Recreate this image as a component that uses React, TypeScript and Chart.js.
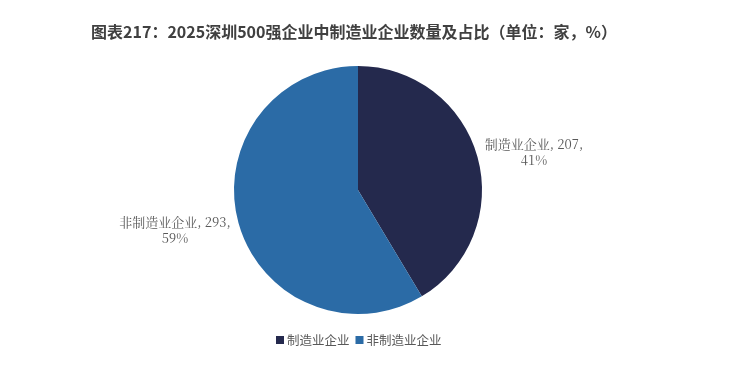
import React, { useEffect, useRef } from "react";
import { Chart, registerables } from "chart.js";

Chart.register(...registerables);

const titleText = "图表217：2025深圳500强企业中制造业企业数量及占比（单位：家，%）";
const categories = ["制造业企业", "非制造业企业"];
const counts = [207, 293];
const percents = ["41%", "59%"];
const colors = ["#24294d", "#2b6ba6"];

const FONT = "'Noto Sans CJK SC', 'Noto Sans', sans-serif";
const SERIF = "'Noto Serif CJK SC', 'Liberation Serif', 'DejaVu Serif', 'Noto Sans CJK SC', serif";

const overlay = {
  id: "overlay",
  afterDraw(chart: any) {
    const ctx = chart.ctx as CanvasRenderingContext2D;
    ctx.save();
    // title
    ctx.fillStyle = "#404040";
    ctx.font = `bold 16px ${FONT}`;
    ctx.textAlign = "center";
    ctx.textBaseline = "middle";
    ctx.fillText(titleText, 354, 32);

    // data labels
    const meta = chart.getDatasetMeta(0);
    ctx.font = `13px ${SERIF}`;
    ctx.fillStyle = "#595959";
    const positions = [
      { x: 534, y: 144 },
      { x: 175, y: 222 },
    ];
    meta.data.forEach((arc: any, i: number) => {
      const p = positions[i];
      ctx.fillText(`${categories[i]}, ${counts[i]},`, p.x, p.y);
      ctx.fillText(percents[i], p.x, p.y + 16);
    });

    // legend
    ctx.font = `12.5px ${FONT}`;
    ctx.textAlign = "left";
    const items = categories.map((c, i) => ({ c, col: colors[i] }));
    let x = 276;
    const y = 340;
    items.forEach((it) => {
      ctx.fillStyle = it.col;
      ctx.fillRect(x, y - 4, 8, 8);
      ctx.fillStyle = "#595959";
      ctx.fillText(it.c, x + 11, y);
      x += 11 + ctx.measureText(it.c).width + 6;
    });
    ctx.restore();
  },
};

export default function App() {
  const ref = useRef<HTMLCanvasElement>(null);
  useEffect(() => {
    document.body.style.margin = "0";
    const chart = new Chart(ref.current!, {
      type: "pie",
      data: {
        labels: categories,
        datasets: [
          {
            data: counts,
            backgroundColor: colors,
            borderWidth: 0,
          },
        ],
      },
      options: {
        animation: false,
        responsive: false,
        layout: { padding: { top: 66, bottom: 53, left: 234, right: 252 } },
        plugins: {
          legend: { display: false },
          title: { display: false },
          tooltip: { enabled: false },
        },
      },
      plugins: [overlay],
    });
    return () => chart.destroy();
  }, []);
  return (
    <div style={{ width: 734, height: 367, background: "#fff" }}>
      <canvas ref={ref} width={734} height={367} style={{ display: "block" }} />
    </div>
  );
}
